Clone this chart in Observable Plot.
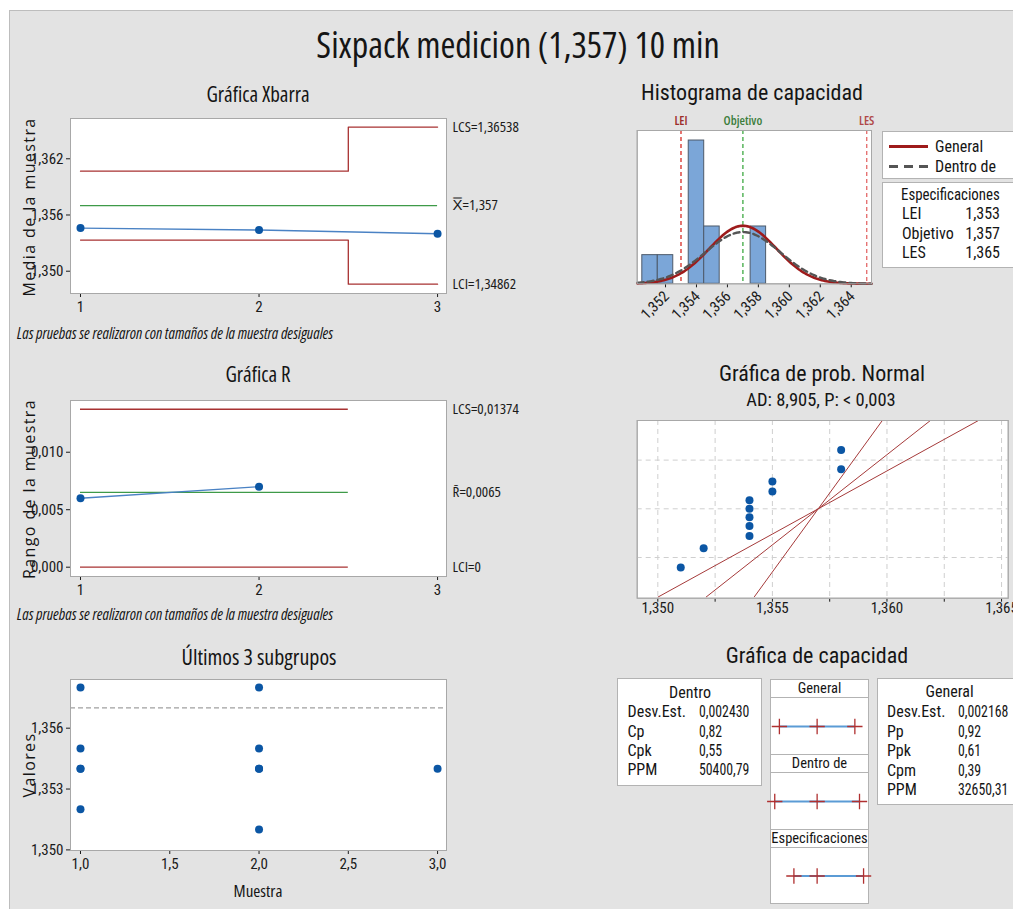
<!DOCTYPE html>
<html><head><meta charset="utf-8">
<script src="https://cdn.jsdelivr.net/npm/d3@7"></script>
<script src="https://cdn.jsdelivr.net/npm/@observablehq/plot@0.6"></script>
<style>
html,body{margin:0;padding:0;background:#fff}
#root{position:relative;width:1013px;height:909px;overflow:hidden;background:#fff;font-family:'Open Sans',sans-serif;font-stretch:75%;color:#151515}
#bg{position:absolute;left:9px;top:10px;right:-2px;bottom:-2px;background:#e3e3e3;border-left:1px solid #bdbdbd;border-top:1px solid #bdbdbd}
.t{position:absolute;white-space:nowrap;line-height:1}
.r{font-family:Roboto,sans-serif;font-stretch:86%}
.n{font-family:Roboto,sans-serif;font-stretch:75%}
.box{position:absolute;background:#fff;border:1px solid #b3b3b3;box-sizing:border-box}
.ylab{position:absolute;white-space:nowrap;line-height:1;font-stretch:100%;font-size:16px;letter-spacing:1.4px;font-weight:500;transform:translate(-50%,-50%) rotate(-90deg)}
</style>
</head><body>
<div id="root"><div id="bg"></div></div>
<script>
// ---------------- data ----------------
const subgroups = [1, 2, 3];
const xbarMeans = [1.3546, 1.3544, 1.354];
const xbarUCL = [1.36068, 1.36068, 1.36538];
const xbarLCL = [1.35332, 1.35332, 1.34862];
const xbarCenter = 1.357;
const xbarYTicks = [1.350, 1.356, 1.362];

const rSubgroups = [1, 2];            // subgroup 3 has a single observation
const rValues = [0.006, 0.007];
const rUCL = 0.01374;
const rCenter = 0.0065;
const rLCL = 0;
const rYTicks = [0, 0.005, 0.010];

const lastX = [1, 1, 1, 1, 1, 2, 2, 2, 2, 2, 3];
const lastY = [1.358, 1.355, 1.354, 1.354, 1.352, 1.358, 1.355, 1.354, 1.354, 1.351, 1.354];
const lastXTicks = [1, 1.5, 2, 2.5, 3];
const lastYTicks = [1.350, 1.353, 1.356];

const histBinCenters = [1.351, 1.352, 1.354, 1.355, 1.358];
const histCounts = [1, 1, 5, 2, 2];
const histBinWidth = 0.001;
const histTicks = [1.352, 1.354, 1.356, 1.358, 1.360, 1.362, 1.364];

const specNames = ["LEI", "Objetivo", "LES"];
const specValues = [1.353, 1.357, 1.365];
const processMean = 1.357;
const sdWithin = 0.002430;
const sdOverall = 0.002168;

const normValues = [1.351, 1.352, 1.354, 1.354, 1.354, 1.354, 1.354, 1.355, 1.355, 1.358, 1.358];
const normPercents = [6.1, 14.9, 23.7, 32.5, 41.2, 50.0, 58.8, 67.5, 76.3, 85.1, 93.9];
const normGridX = [1.350, 1.3525, 1.355, 1.3575, 1.360, 1.3625, 1.365];
const normLabelTicks = [1.350, 1.355, 1.360, 1.365];
const normGridP = [10, 50, 90];
const probLineLow = [1.3500, 1.3521, 1.3542];   // value at 1 %
const probLineHigh = [1.3640, 1.3619, 1.3598];  // value at 99 %

const capRows = ["General", "Dentro de", "Especificaciones"];
const capLow = [1.3505, 1.3497, 1.353];
const capMid = [1.357, 1.357, 1.357];
const capHigh = [1.3635, 1.3643, 1.365];

const withinLabels = ["Desv.Est.", "Cp", "Cpk", "PPM"];
const withinValues = ["0,002430", "0,82", "0,55", "50400,79"];
const overallLabels = ["Desv.Est.", "Pp", "Ppk", "Cpm", "PPM"];
const overallValues = ["0,002168", "0,92", "0,61", "0,39", "32650,31"];

// ---------------- helpers ----------------
const root = document.getElementById("root");
const fmt = spec => d => d3.format(spec)(d).replace(".", ",");
const base = "font-family:'Open Sans',sans-serif;font-stretch:75%;font-size:14px;background:transparent;color:#1a1a1a;overflow:visible";
const RED = "#a83232", GREEN = "#3e9a48", BLUELINE = "#4a82c4", DOT = "#0b56a4";
const noLabel = () => "";
const TICKFONT = {fontFamily: "Roboto, sans-serif", fontSize: 15, fill: "#1a1a1a", lineAnchor: "middle"};

function xTickText(ticks, format, dy = 14) {
  return Plot.text(ticks, {x: d => d, text: d => format(d), frameAnchor: "bottom", dy, ...TICKFONT});
}
function yTickText(ticks, format) {
  return Plot.text(ticks, {y: d => d, text: d => format(d), frameAnchor: "left", dx: -7, textAnchor: "end", ...TICKFONT});
}
function put(node, left, top) {
  node.style.position = "absolute";
  node.style.left = left + "px";
  node.style.top = top + "px";
  root.append(node);
  return node;
}
function text(str, x, y, css = "", anchor = "center", parent = root, cls = "", sx = 1) {
  const el = document.createElement("div");
  el.className = "t " + cls;
  el.textContent = str;
  el.style.cssText += css;
  el.style.left = x + "px";
  el.style.top = y + "px";
  const tr = anchor === "center" ? "translate(-50%,-50%)" : anchor === "left" ? "translate(0,-50%)" : "translate(-100%,-50%)";
  el.style.transformOrigin = anchor === "center" ? "center" : anchor === "left" ? "left center" : "right center";
  el.style.transform = tr + (sx !== 1 ? ` scaleX(${sx})` : "");
  parent.append(el);
  return el;
}
function ylab(str, x, y) {
  const el = document.createElement("div");
  el.className = "ylab";
  el.textContent = str;
  el.style.left = x + "px";
  el.style.top = y + "px";
  root.append(el);
}
function probit(p) {
  const a = [-3.969683028665376e+01, 2.209460984245205e+02, -2.759285104469687e+02, 1.383577518672690e+02, -3.066479806614716e+01, 2.506628277459239e+00];
  const b = [-5.447609879822406e+01, 1.615858368580409e+02, -1.556989798598866e+02, 6.680131188771972e+01, -1.328068155288572e+01];
  const c = [-7.784894002430293e-03, -3.223964580411365e-01, -2.400758277161838e+00, -2.549732539343734e+00, 4.374664141464968e+00, 2.938163982698783e+00];
  const d = [7.784695709041462e-03, 3.224671290700398e-01, 2.445134137142996e+00, 3.754408661907416e+00];
  const pl = 0.02425;
  if (p < pl) { const q = Math.sqrt(-2 * Math.log(p)); return (((((c[0]*q+c[1])*q+c[2])*q+c[3])*q+c[4])*q+c[5]) / ((((d[0]*q+d[1])*q+d[2])*q+d[3])*q+1); }
  if (p > 1 - pl) { const q = Math.sqrt(-2 * Math.log(1 - p)); return -(((((c[0]*q+c[1])*q+c[2])*q+c[3])*q+c[4])*q+c[5]) / ((((d[0]*q+d[1])*q+d[2])*q+d[3])*q+1); }
  const q = p - 0.5, r = q * q;
  return (((((a[0]*r+a[1])*r+a[2])*r+a[3])*r+a[4])*r+a[5])*q / (((((b[0]*r+b[1])*r+b[2])*r+b[3])*r+b[4])*r+1);
}
const pdf = (x, m, s) => Math.exp(-0.5 * ((x - m) / s) ** 2) / (s * Math.sqrt(2 * Math.PI));

// ---------------- titles ----------------
const RT = "font-size:22px";
text("Sixpack medicion (1,357) 10 min", 518, 45, "font-size:36px");
text("Gráfica Xbarra", 258, 94, "font-size:21px");
text("Histograma de capacidad", 752, 93, RT, "center", root, "r");
text("Gráfica R", 258, 374, "font-size:21px");
text("Gráfica de prob. Normal", 822, 374, RT, "center", root, "r");
text("AD: 8,905, P: < 0,003", 821, 400, "font-size:18.5px", "center", root, "r");
text("Últimos 3 subgrupos", 259, 656, "font-size:22px");
text("Gráfica de capacidad", 817, 656, RT, "center", root, "r");
text("Las pruebas se realizaron con tamaños de la muestra desiguales", 17, 334, "font-size:15.5px;font-style:italic", "left");
text("Las pruebas se realizaron con tamaños de la muestra desiguales", 17, 615, "font-size:15.5px;font-style:italic", "left");
ylab("Media de la muestra", 28.5, 207);
ylab("Rango de la muestra", 28.5, 489);
ylab("Valores", 28.5, 765);
text("Muestra", 258, 890, "font-size:17px;font-weight:500");

// ---------------- Xbar chart ----------------
const xbarLabels = [
  {y: xbarUCL[2], t: "LCS=" + fmt(".5f")(xbarUCL[2])},
  {y: xbarCenter, t: "X\u033F=" + fmt(".3f")(xbarCenter)},
  {y: xbarLCL[2], t: "LCI=" + fmt(".5f")(xbarLCL[2])}
];
put(Plot.plot({
  width: 560, height: 215, marginLeft: 70, marginRight: 114, marginTop: 8, marginBottom: 32,
  style: base,
  x: {domain: [0.944, 3.05], ticks: subgroups, tickFormat: noLabel, tickSize: 4, label: null},
  y: {domain: [1.34762, 1.3663], ticks: xbarYTicks, tickFormat: noLabel, tickSize: 4, label: null},
  marks: [
    Plot.frame({fill: "white", stroke: "#a8a8a8"}),
    Plot.line(subgroups, {x: d => d, y: (d, i) => xbarUCL[i], curve: "step", stroke: RED, strokeWidth: 1.3}),
    Plot.line(subgroups, {x: d => d, y: (d, i) => xbarLCL[i], curve: "step", stroke: RED, strokeWidth: 1.3}),
    Plot.ruleY([xbarCenter], {x1: () => subgroups[0], x2: () => subgroups[subgroups.length - 1], stroke: GREEN, strokeWidth: 1.3}),
    Plot.line(subgroups, {x: d => d, y: (d, i) => xbarMeans[i], stroke: BLUELINE, strokeWidth: 1.4}),
    Plot.dot(subgroups, {x: d => d, y: (d, i) => xbarMeans[i], r: 4, fill: DOT}),
    Plot.text(xbarLabels, {x: () => subgroups[subgroups.length - 1], y: "y", text: "t", dx: 15, textAnchor: "start", fontSize: 15}),
    xTickText(subgroups, d => String(d)),
    yTickText(xbarYTicks, fmt(".3f")),
    Plot.frame({stroke: "#a8a8a8"})
  ]
}), 0, 110);

// ---------------- R chart ----------------
const rLimitEnd = rSubgroups[rSubgroups.length - 1] + 0.5;
const rLabels = [
  {y: rUCL, t: "LCS=" + fmt(".5f")(rUCL)},
  {y: rCenter, t: "R\u0304=" + fmt(".4f")(rCenter)},
  {y: rLCL, t: "LCI=" + d3.format("d")(rLCL)}
];
put(Plot.plot({
  width: 560, height: 215, marginLeft: 70, marginRight: 114, marginTop: 8, marginBottom: 31,
  style: base,
  x: {domain: [0.944, 3.05], ticks: subgroups, tickFormat: noLabel, tickSize: 4, label: null},
  y: {domain: [-0.00081, 0.0145], ticks: rYTicks, tickFormat: noLabel, tickSize: 4, label: null},
  marks: [
    Plot.frame({fill: "white", stroke: "#a8a8a8"}),
    Plot.ruleY([rUCL], {x1: () => rSubgroups[0], x2: () => rLimitEnd, stroke: RED, strokeWidth: 1.3}),
    Plot.ruleY([rLCL], {x1: () => rSubgroups[0], x2: () => rLimitEnd, stroke: RED, strokeWidth: 1.3}),
    Plot.ruleY([rCenter], {x1: () => rSubgroups[0], x2: () => rLimitEnd, stroke: GREEN, strokeWidth: 1.3}),
    Plot.line(rSubgroups, {x: d => d, y: (d, i) => rValues[i], stroke: BLUELINE, strokeWidth: 1.4}),
    Plot.dot(rSubgroups, {x: d => d, y: (d, i) => rValues[i], r: 4, fill: DOT}),
    Plot.text(rLabels, {x: () => subgroups[subgroups.length - 1], y: "y", text: "t", dx: 15, textAnchor: "start", fontSize: 15}),
    xTickText(subgroups, d => String(d)),
    yTickText(rYTicks, fmt(".3f")),
    Plot.frame({stroke: "#a8a8a8"})
  ]
}), 0, 392);

// ---------------- Last 3 subgroups ----------------
put(Plot.plot({
  width: 560, height: 200, marginLeft: 70, marginRight: 114, marginTop: 9, marginBottom: 20,
  style: base,
  x: {domain: [0.944, 3.05], ticks: lastXTicks, tickFormat: noLabel, tickSize: 4, label: null},
  y: {domain: [1.34997, 1.3584], ticks: lastYTicks, tickFormat: noLabel, tickSize: 4, label: null},
  marks: [
    Plot.frame({fill: "white", stroke: "#a8a8a8"}),
    Plot.ruleY([processMean], {stroke: "#a0a0a0", strokeDasharray: "5,3", strokeWidth: 1.2}),
    Plot.dot(lastY, {x: (d, i) => lastX[i], y: d => d, r: 4, fill: DOT}),
    xTickText(lastXTicks, fmt(".1f"), 13.5),
    yTickText(lastYTicks, fmt(".3f")),
    Plot.frame({stroke: "#a8a8a8"})
  ]
}), 0, 670);

// ---------------- Histogram ----------------
const nObs = d3.sum(histCounts);
const curveGrid = d3.range(1.3502, 1.36535, 0.0001);
const specColors = ["#d93a34", "#4caf50", "#e57373"];
const specLabelColors = ["#9c2e2a", "#3b7d3b", "#b04848"];
put(Plot.plot({
  width: 250, height: 220, marginLeft: 6.7, marginRight: 9, marginTop: 25, marginBottom: 41.7,
  style: base,
  x: {domain: [1.35017, 1.36531], ticks: histTicks, tickFormat: noLabel, tickSize: 4, label: null},
  y: {domain: [0, 5.35], axis: null},
  marks: [
    Plot.frame({fill: "white", stroke: "#a8a8a8"}),
    Plot.rectY(histBinCenters, {x1: d => d - histBinWidth / 2, x2: d => d + histBinWidth / 2, y: (d, i) => histCounts[i], fill: "#7ba6d8", stroke: "#4d5a6a", strokeWidth: 1}),
    specValues.map((v, i) => Plot.ruleX([v], {stroke: specColors[i], strokeDasharray: "4,3", strokeWidth: 1.4})),
    Plot.line(curveGrid, {x: d => d, y: d => nObs * histBinWidth * pdf(d, processMean, sdOverall), stroke: "#9e1b1b", strokeWidth: 2.6}),
    Plot.line(curveGrid, {x: d => d, y: d => nObs * histBinWidth * pdf(d, processMean, sdWithin), stroke: "#555", strokeDasharray: "6,4", strokeWidth: 2.4}),
    specValues.map((v, i) => Plot.text([specNames[i]], {x: () => v, frameAnchor: "top", dy: -10, fill: specLabelColors[i], fontSize: 12.5, fontWeight: 600, lineAnchor: "middle"})),
    Plot.text(histTicks, {x: d => d, text: d => fmt(".3f")(d), frameAnchor: "bottom", dy: 10, dx: 1, rotate: -45, textAnchor: "end", ...TICKFONT}),
    Plot.frame({stroke: "#a8a8a8"})
  ]
}), 630, 105);

// legend boxes
const lg1 = put(Object.assign(document.createElement("div"), {className: "box"}), 882, 131);
lg1.style.width = "140px"; lg1.style.height = "48px";
const sw1 = document.createElement("div");
sw1.style.cssText = "position:absolute;left:6px;top:13px;width:39px;height:3px;background:#9e1b1b";
lg1.append(sw1);
const sw2 = document.createElement("div");
sw2.style.cssText = "position:absolute;left:6px;top:33px;width:39px;height:3px;background:repeating-linear-gradient(90deg,#555 0 9px,transparent 9px 15px)";
lg1.append(sw2);
text("General", 52, 14.5, "font-size:16px", "left", lg1, "r");
text("Dentro de", 52, 34.5, "font-size:16px", "left", lg1, "r");

const lg2 = put(Object.assign(document.createElement("div"), {className: "box"}), 882, 182);
lg2.style.width = "140px"; lg2.style.height = "86px";
text("Especificaciones", 18, 11.5, "font-size:16px", "left", lg2, "r", 0.93);
specNames.forEach((n, i) => {
  text(n, 19, 31 + i * 19.6, "font-size:16px", "left", lg2, "r");
  text(fmt(".3f")(specValues[i]), 117, 31 + i * 19.6, "font-size:16px", "right", lg2, "n");
});

// ---------------- Normal probability plot ----------------
put(Plot.plot({
  width: 383, height: 215, marginLeft: 6.7, marginRight: 5.3, marginTop: 8, marginBottom: 29.3,
  style: base,
  x: {domain: [1.3491, 1.36529], ticks: normGridX, tickFormat: noLabel, tickSize: 4, label: null},
  y: {domain: [-2.353, 2.324], axis: null},
  marks: [
    Plot.frame({fill: "white", stroke: "#a8a8a8"}),
    Plot.ruleX(normGridX, {stroke: "#cfcfcf", strokeDasharray: "5,4"}),
    Plot.ruleY(normGridP, {y: p => probit(p / 100), stroke: "#cfcfcf", strokeDasharray: "5,4"}),
    Plot.link(probLineLow, {x1: d => d, y1: () => probit(0.01), x2: (d, i) => probLineHigh[i], y2: () => probit(0.99), stroke: "#a53a3a", strokeWidth: 1, clip: true}),
    Plot.dot(normValues, {x: d => d, y: (d, i) => probit(normPercents[i] / 100), r: 4, fill: DOT}),
    xTickText(normLabelTicks, fmt(".3f"), 10),
    Plot.frame({stroke: "#a8a8a8"})
  ]
}), 630, 412);

// ---------------- Capability ----------------
const bw = document.createElement("div"); bw.className = "box";
put(bw, 617, 678); bw.style.width = "145px"; bw.style.height = "108px";
text("Dentro", 72, 13.7, "font-size:16px", "center", bw, "r");
withinLabels.forEach((l, i) => {
  text(l, 9.5, 33.1 + i * 19.4, "font-size:16px", "left", bw, "r");
  text(withinValues[i], 80.5, 33.1 + i * 19.4, "font-size:16px", "left", bw, "n", 0.86);
});
const bo = document.createElement("div"); bo.className = "box";
put(bo, 877, 678); bo.style.width = "143px"; bo.style.height = "127px";
text("General", 71.5, 13, "font-size:16px", "center", bo, "r");
overallLabels.forEach((l, i) => {
  text(l, 9, 33.4 + i * 19.4, "font-size:16px", "left", bo, "r");
  text(overallValues[i], 79.5, 33.4 + i * 19.4, "font-size:16px", "left", bo, "n", 0.86);
});

const col = document.createElement("div"); col.className = "box";
put(col, 770, 679); col.style.width = "99px"; col.style.height = "225px";
const bodyH = [56, 56, 55];
let yy = 0;
capRows.forEach((name, i) => {
  const h = document.createElement("div");
  h.style.cssText = `position:absolute;left:0;top:${yy}px;width:97px;height:17px;border-bottom:1px solid #b3b3b3;`;
  col.append(h);
  text(name, 48.5, 9, "font-size:14.5px", "center", h, "r");
  yy += 18;
  const b = document.createElement("div");
  b.style.cssText = `position:absolute;left:0;top:${yy}px;width:97px;height:${bodyH[i]}px;` + (i < 2 ? "border-bottom:1px solid #b3b3b3;" : "");
  col.append(b);
  b.append(Plot.plot({
    width: 97, height: bodyH[i], margin: 0, style: "background:transparent;overflow:visible",
    x: {domain: [1.34914, 1.36585], axis: null},
    y: {domain: [0, 1], axis: null},
    marks: [
      Plot.ruleY([0.5], {x1: () => capLow[i], x2: () => capHigh[i], stroke: "#5b9bd5", strokeWidth: 2}),
      Plot.dot([capLow[i], capMid[i], capHigh[i]], {x: d => d, y: () => 0.5, symbol: "plus", r: 5, stroke: "#b03030", strokeWidth: 1.3})
    ]
  }));
  yy += bodyH[i] + (i < 2 ? 1 : 0);
});
</script>
</body></html>
